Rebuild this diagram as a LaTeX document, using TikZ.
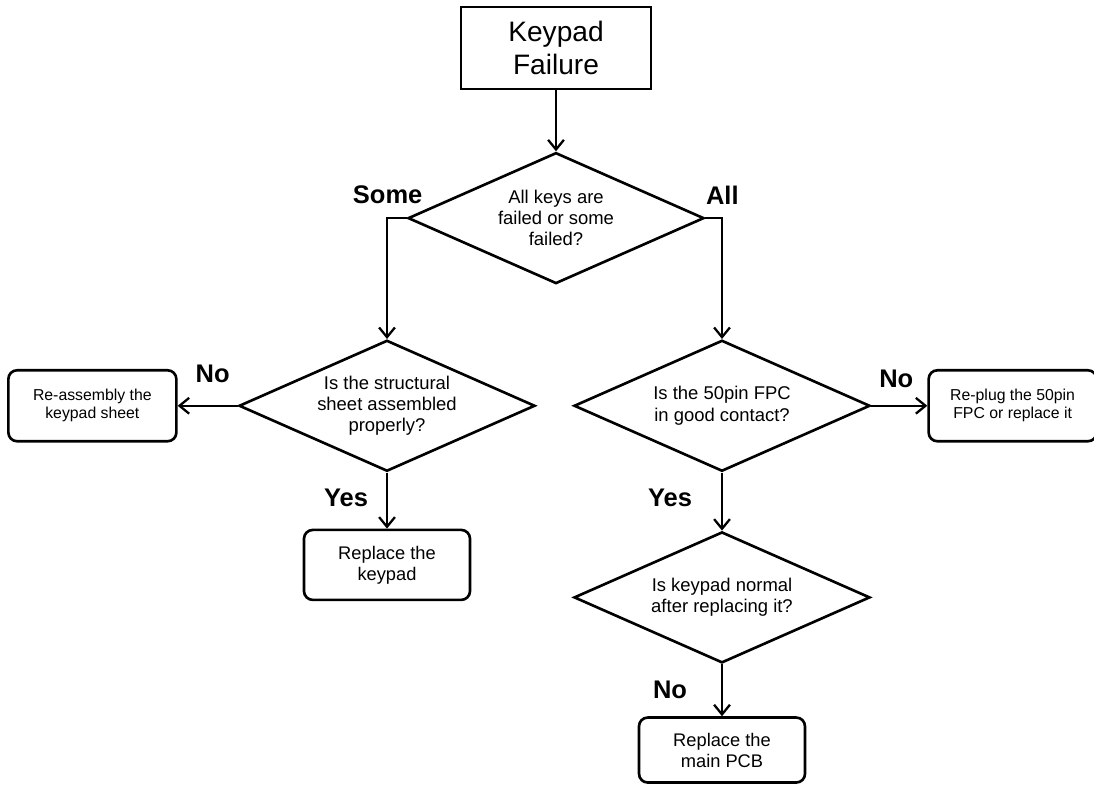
\documentclass[tikz,border=0pt]{standalone}
\usepackage{fontspec}
\setmainfont{Liberation Sans}
\usetikzlibrary{shapes.geometric, arrows.meta, positioning, calc}
\tikzstyle{arrow}=[-{Straight Barb[length=5.5pt,width=9pt]}, line width=1.3pt, color=black]

\begin{document}
\begin{tikzpicture}[
  head/.style={rectangle, draw, line width=1.5pt, minimum width=3.8cm, minimum height=1.64cm,
               inner sep=0pt, align=center, font=\fontsize{16}{18.4}\selectfont},
  query/.style={diamond, draw, line width=1.5pt, aspect=2.25, minimum width=5.92cm, minimum height=2.62cm,
                inner sep=0pt, align=center, font=\fontsize{10.5}{12.1}\selectfont},
  act/.style={rectangle, rounded corners=5pt, draw, line width=1.5pt, minimum width=3.32cm, minimum height=1.4cm,
              align=center, font=\fontsize{10.4}{12}\selectfont},
  fix/.style={act, minimum width=3.36cm, minimum height=1.42cm, font=\fontsize{9}{10.4}\selectfont},
  tag/.style={inner sep=0pt, font=\fontsize{14.5}{16}\selectfont\bfseries}
]
\useasboundingbox (0,0) rectangle (21.88,-15.74);

% Start and first question
\node[head] (start) at (11.12,-0.96) {Keypad\\Failure};
\node[query, below=1.22cm of start] (q_keys) {All keys are\\failed or some\\failed?};

% Some keys failed
\node[query, below=1.08cm of q_keys, xshift=-3.38cm] (q_sheet) {Is the structural\\sheet assembled\\properly?};
\node[fix, left=1.2cm of q_sheet] (fix_sheet) {Re-assembly the\\keypad sheet};
\node[act, below=1.12cm of q_sheet] (new_pad) {Replace the\\keypad};

% All keys failed
\node[query, below=1.08cm of q_keys, xshift=3.32cm] (q_fpc) {Is the 50pin FPC\\in good contact?};
\node[fix, right=1.12cm of q_fpc] (fix_fpc) {Re-plug the 50pin\\FPC or replace it};
\node[query, below=1.16cm of q_fpc] (q_pad) {Is keypad normal\\after replacing it?};
\node[act, below=1.04cm of q_pad, minimum height=1.3cm] (new_pcb) {Replace the\\main PCB};

% Branch labels
\node[tag] at ($(q_keys.west)+(-0.38,0.46)$) (l_some) {Some};
\node[tag] at ($(q_keys.east)+(0.34,0.46)$) (l_all) {All};
\node[tag] at ($(q_sheet.west)+(-0.5,0.64)$) (l_no1) {No};
\node[tag] at ($(q_sheet.south)+(-0.82,-0.5)$) (l_yes1) {Yes};
\node[tag] at ($(q_fpc.east)+(0.5,0.54)$) (l_no2) {No};
\node[tag] at ($(q_fpc.south)+(-1.04,-0.5)$) (l_yes2) {Yes};
\node[tag] at ($(q_pad.south)+(-1.04,-0.52)$) (l_no3) {No};

\draw[arrow] (start) -- (q_keys);
\draw[arrow] (q_keys.west) -| (q_sheet.north);
\draw[arrow] (q_keys.east) -| (q_fpc.north);
\draw[arrow] (q_sheet.west) -- (fix_sheet.east);
\draw[arrow] (q_sheet.south) -- (new_pad.north);
\draw[arrow] (q_fpc.east) -- (fix_fpc.west);
\draw[arrow] (q_fpc.south) -- (q_pad.north);
\draw[arrow] (q_pad.south) -- (new_pcb.north);
\end{tikzpicture}
\end{document}
